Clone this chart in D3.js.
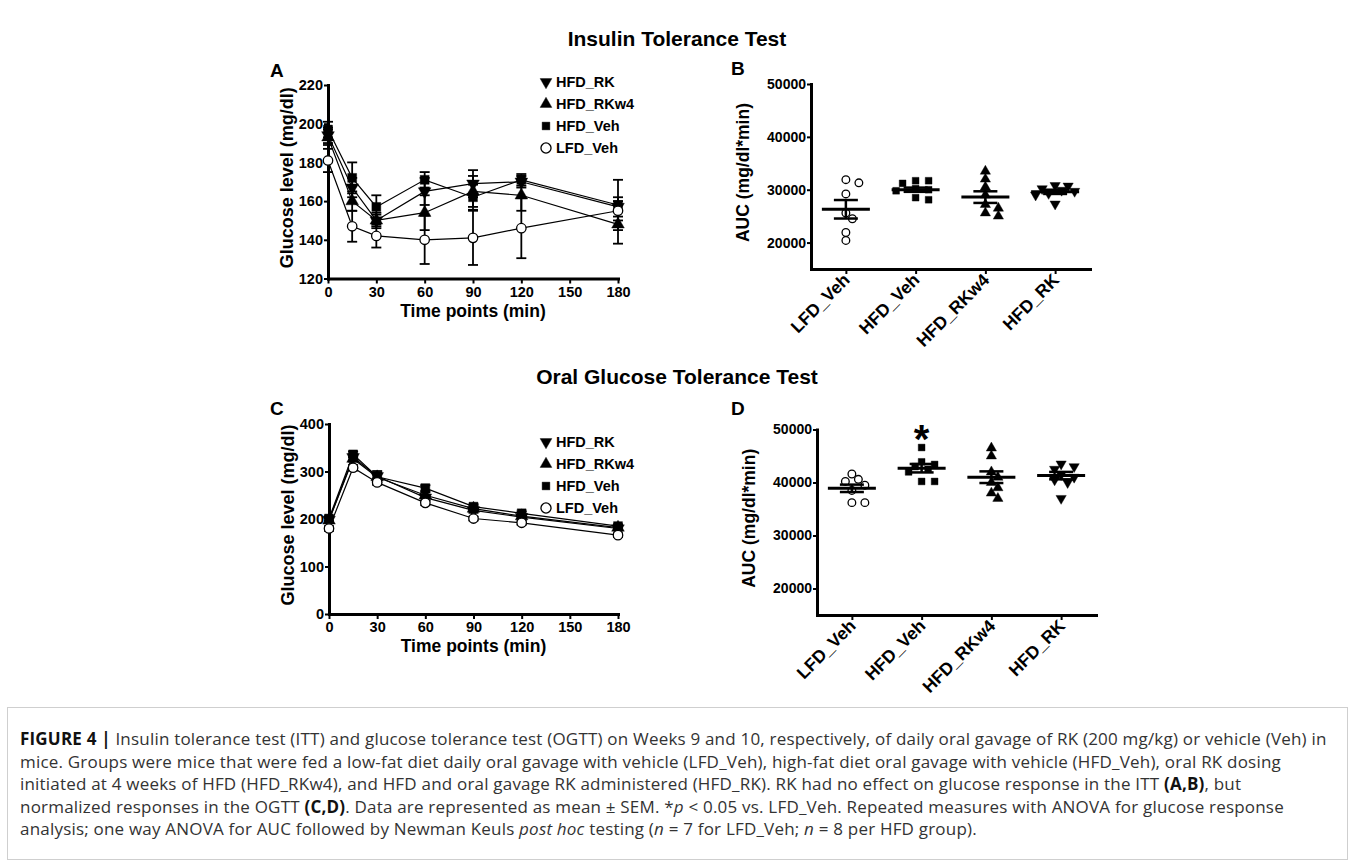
<!DOCTYPE html>
<html>
<head>
<meta charset="utf-8">
<script src="https://cdn.jsdelivr.net/npm/d3@7"></script>
<style>
  body { margin: 0; background: #fff; }
  svg text { font-family: "Liberation Sans", Arial, sans-serif; }
</style>
</head>
<body>
<svg id="fig" width="1355" height="864"></svg>
<script>
// time points (min) and axis ticks
var timePoints = [0, 15, 30, 60, 90, 120, 180];
var timeTicks = [0, 30, 60, 90, 120, 150, 180];
var seriesNames = ["HFD_RK", "HFD_RKw4", "HFD_Veh", "LFD_Veh"];

// ITT glucose (mg/dl), mean and SEM
var ittHFD_RK = [194, 167, 150, 165, 169, 170, 157];
var ittHFD_RKSem = [4, 5, 4, 7, 7, 3, 5];
var ittHFD_RKw4 = [193, 160, 150, 154, 165, 163, 148];
var ittHFD_RKw4Sem = [4, 5, 3, 9, 8, 8, 10];
var ittHFD_Veh = [197, 172, 157, 171, 162, 171, 158];
var ittHFD_VehSem = [4, 8, 6, 4, 6.5, 3, 13];
var ittLFD_Veh = [181, 147, 142, 140, 141, 146, 155];
var ittLFD_VehSem = [6, 8, 6, 12.5, 14, 15.5, 5];
var ittTicks = [120, 140, 160, 180, 200, 220];

// OGTT glucose (mg/dl), mean and SEM
var ogttHFD_RK = [198, 330, 290, 245, 218, 204, 180];
var ogttHFD_RKSem = [5, 6, 8, 6, 5, 4, 4];
var ogttHFD_RKw4 = [197, 327, 288, 250, 222, 206, 182];
var ogttHFD_RKw4Sem = [5, 6, 6, 6, 5, 4, 4];
var ogttHFD_Veh = [201, 336, 289, 265, 226, 212, 185];
var ogttHFD_VehSem = [5, 6, 12, 6, 5, 4, 4];
var ogttLFD_Veh = [180, 308, 277, 234, 201, 192, 166];
var ogttLFD_VehSem = [5, 6, 5, 5, 4, 4, 4];
var ogttTicks = [0, 100, 200, 300, 400];

// AUC (mg/dl*min), individual animals
var aucGroups = ["LFD_Veh", "HFD_Veh", "HFD_RKw4", "HFD_RK"];
var aucTicks = [20000, 30000, 40000, 50000];
var ittAucLFD_Veh = [31900, 31300, 29200, 25600, 24500, 21900, 20400];
var ittAucHFD_Veh = [31700, 31700, 31200, 30200, 30000, 29800, 28500, 28100];
var ittAucHFD_RKw4 = [33500, 32000, 30500, 29000, 27200, 26500, 25600, 25000];
var ittAucHFD_RK = [30800, 30700, 30200, 29900, 29700, 29300, 29000, 27300];
var ittAucMean = [26300, 30000, 28600, 29600];
var ittAucSem = [1750, 400, 1100, 400];

var ogttAucLFD_Veh = [41600, 40600, 40200, 39500, 38500, 36200, 36200];
var ogttAucHFD_Veh = [46600, 43900, 43400, 43000, 42500, 42000, 40200, 40200];
var ogttAucHFD_RKw4 = [46500, 45000, 42000, 41000, 40000, 39000, 38000, 37000];
var ogttAucHFD_RK = [43500, 43000, 42500, 41500, 41000, 40500, 40000, 37000];
var ogttAucMean = [38900, 42700, 41000, 41300];
var ogttAucSem = [700, 800, 1100, 700];

var shapeOf = { HFD_RK: "down", HFD_RKw4: "up", HFD_Veh: "square", LFD_Veh: "circle" };

var svg = d3.select("#fig");

function drawMarker(g, kind, x, y, area) {
  var type = kind === "circle" ? d3.symbolCircle : kind === "square" ? d3.symbolSquare : d3.symbolTriangle;
  g.append("path")
    .attr("d", d3.symbol(type, area)())
    .attr("transform", "translate(" + x + "," + y + ")" + (kind === "down" ? " rotate(180)" : ""))
    .attr("fill", kind === "circle" ? "#fff" : "#000")
    .attr("stroke", "#000")
    .attr("stroke-width", kind === "circle" ? 1.3 : 0.4);
}

function styleAxis(a, fontSize) {
  a.select(".domain").attr("stroke", "#000").attr("stroke-width", 3).attr("stroke-linecap", "square");
  a.selectAll(".tick line").attr("stroke", "#000").attr("stroke-width", 2);
  a.selectAll(".tick text").attr("fill", "#000").attr("font-weight", "bold")
    .attr("font-size", fontSize).attr("font-family", "Liberation Sans, Arial, sans-serif");
}

function panelLetter(txt, x, y) {
  svg.append("text").attr("x", x).attr("y", y).text(txt)
    .attr("font-size", 19).attr("font-weight", "bold");
}

function timeCourse(o) {
  var g = svg.append("g");
  var x = d3.scaleLinear().domain([0, 180]).range([o.left, o.right]);
  var y = d3.scaleLinear().domain([o.yTicks[0], o.yTicks[o.yTicks.length - 1]]).range([o.bottom, o.top]);

  var xa = g.append("g").attr("transform", "translate(0," + o.bottom + ")")
    .call(d3.axisBottom(x).tickValues(timeTicks).tickSize(5).tickSizeOuter(0).tickPadding(3));
  var ya = g.append("g").attr("transform", "translate(" + o.left + ",0)")
    .call(d3.axisLeft(y).tickValues(o.yTicks).tickSize(4).tickSizeOuter(0).tickPadding(1));
  styleAxis(xa, 14.5); styleAxis(ya, 14.5);

  g.append("text").attr("x", (o.left + o.right) / 2).attr("y", o.bottom + 38)
    .attr("text-anchor", "middle").attr("font-size", 17.5).attr("font-weight", "bold")
    .text("Time points (min)");
  g.append("text").attr("transform", "translate(" + (o.left - 35) + "," + ((o.top + o.bottom) / 2 - 4) + ") rotate(-90)")
    .attr("text-anchor", "middle").attr("font-size", 18).attr("font-weight", "bold")
    .text("Glucose level (mg/dl)");

  var line = d3.line().x(function (d) { return x(d[0]); }).y(function (d) { return y(d[1]); });

  // error bars
  o.series.forEach(function (s) {
    s.values.forEach(function (v, i) {
      var cx = x(timePoints[i]), lo = y(v - s.sem[i]), hi = y(v + s.sem[i]);
      g.append("line").attr("x1", cx).attr("x2", cx).attr("y1", lo).attr("y2", hi)
        .attr("stroke", "#000").attr("stroke-width", 1.8);
      [lo, hi].forEach(function (yy) {
        g.append("line").attr("x1", cx - 5).attr("x2", cx + 5).attr("y1", yy).attr("y2", yy)
          .attr("stroke", "#000").attr("stroke-width", 1.8);
      });
    });
  });
  // connecting lines
  o.series.forEach(function (s) {
    g.append("path").datum(timePoints.map(function (t, i) { return [t, s.values[i]]; }))
      .attr("d", line).attr("fill", "none").attr("stroke", "#000").attr("stroke-width", 1.2);
  });
  // markers
  o.series.forEach(function (s) {
    s.values.forEach(function (v, i) {
      drawMarker(g, shapeOf[s.name], x(timePoints[i]), y(v), s.name === "HFD_Veh" ? 80 : 70);
    });
  });

  // legend
  seriesNames.forEach(function (n, i) {
    var ly = o.legY + i * 22;
    drawMarker(g, shapeOf[n], o.legX, ly, n === "LFD_Veh" ? 80 : 60);
    g.append("text").attr("x", o.legX + 10).attr("y", ly + 5)
      .attr("font-size", 14.5).attr("font-weight", "bold").text(n);
  });
}

function swarm(values, cx, y, step, minDist) {
  var placed = [];
  values.slice().sort(function (a, b) { return b - a; }).forEach(function (v) {
    var py = y(v);
    for (var k = 0; k < 30; k++) {
      var off = k === 0 ? 0 : (k % 2 ? 1 : -1) * Math.ceil(k / 2) * step;
      var px = cx + off;
      var ok = placed.every(function (q) { return Math.hypot(q.x - px, q.y - py) >= minDist; });
      if (ok) { placed.push({ x: px, y: py }); break; }
    }
  });
  return placed;
}

function aucScatter(o) {
  var g = svg.append("g");
  var x = d3.scalePoint().domain(aucGroups).range([o.left, o.right]).padding(0.5);
  var y = d3.scaleLinear().domain([15000, 50000]).range([o.bottom, o.top]);

  var xa = g.append("g").attr("transform", "translate(0," + o.bottom + ")")
    .call(d3.axisBottom(x).tickSize(5).tickSizeOuter(0).tickFormat(""));
  var ya = g.append("g").attr("transform", "translate(" + o.left + ",0)")
    .call(d3.axisLeft(y).tickValues(aucTicks).tickSize(4).tickSizeOuter(0).tickPadding(1).tickFormat(d3.format("d")));
  styleAxis(xa, 14); styleAxis(ya, 14);

  aucGroups.forEach(function (c) {
    g.append("text")
      .attr("transform", "translate(" + (x(c) + 5) + "," + (o.bottom + 12) + ") rotate(-45)")
      .attr("text-anchor", "end").attr("font-size", 17.5).attr("font-weight", "bold").text(c);
  });

  g.append("text").attr("transform", "translate(" + (o.left - 62) + "," + ((o.top + o.bottom) / 2 - 4) + ") rotate(-90)")
    .attr("text-anchor", "middle").attr("font-size", 17.5).attr("font-weight", "bold")
    .text("AUC (mg/dl*min)");

  o.points.forEach(function (vals, gi) {
    var cx = x(aucGroups[gi]);
    var kind = shapeOf[aucGroups[gi]];
    swarm(vals, cx, y, 6.5, 7.5).forEach(function (p) {
      drawMarker(g, kind, p.x, p.y, 46);
    });
  });

  o.mean.forEach(function (m, gi) {
    var cx = x(aucGroups[gi]);
    g.append("line").attr("x1", cx - 24).attr("x2", cx + 24).attr("y1", y(m)).attr("y2", y(m))
      .attr("stroke", "#000").attr("stroke-width", 3);
    var lo = y(m - o.sem[gi]), hi = y(m + o.sem[gi]);
    g.append("line").attr("x1", cx).attr("x2", cx).attr("y1", lo).attr("y2", hi)
      .attr("stroke", "#000").attr("stroke-width", 2.5);
    [lo, hi].forEach(function (yy) {
      g.append("line").attr("x1", cx - 12).attr("x2", cx + 12).attr("y1", yy).attr("y2", yy)
        .attr("stroke", "#000").attr("stroke-width", 2.5);
    });
  });

  if (o.star) {
    g.append("text").attr("x", x(o.star)).attr("y", o.top + 23)
      .attr("text-anchor", "middle").attr("font-size", 40).attr("font-weight", "bold").text("*");
  }
}

// titles
svg.append("text").attr("x", 677).attr("y", 46).attr("text-anchor", "middle")
  .attr("font-size", 21).attr("font-weight", "bold").text("Insulin Tolerance Test");
svg.append("text").attr("x", 677).attr("y", 384).attr("text-anchor", "middle")
  .attr("font-size", 21).attr("font-weight", "bold").text("Oral Glucose Tolerance Test");

panelLetter("A", 270, 77);
panelLetter("B", 731, 75);
panelLetter("C", 270, 415);
panelLetter("D", 731, 415);

timeCourse({
  left: 328, right: 618, top: 85, bottom: 278.5, yTicks: ittTicks, legX: 546, legY: 82,
  series: [
    { name: "HFD_RK", values: ittHFD_RK, sem: ittHFD_RKSem },
    { name: "HFD_RKw4", values: ittHFD_RKw4, sem: ittHFD_RKw4Sem },
    { name: "HFD_Veh", values: ittHFD_Veh, sem: ittHFD_VehSem },
    { name: "LFD_Veh", values: ittLFD_Veh, sem: ittLFD_VehSem }
  ]
});

timeCourse({
  left: 329, right: 618, top: 424, bottom: 614, yTicks: ogttTicks, legX: 546, legY: 442,
  series: [
    { name: "HFD_RK", values: ogttHFD_RK, sem: ogttHFD_RKSem },
    { name: "HFD_RKw4", values: ogttHFD_RKw4, sem: ogttHFD_RKw4Sem },
    { name: "HFD_Veh", values: ogttHFD_Veh, sem: ogttHFD_VehSem },
    { name: "LFD_Veh", values: ogttLFD_Veh, sem: ogttLFD_VehSem }
  ]
});

aucScatter({
  left: 811, right: 1090, top: 84, bottom: 269,
  points: [ittAucLFD_Veh, ittAucHFD_Veh, ittAucHFD_RKw4, ittAucHFD_RK],
  mean: ittAucMean, sem: ittAucSem
});

aucScatter({
  left: 817, right: 1096, top: 429.5, bottom: 615,
  points: [ogttAucLFD_Veh, ogttAucHFD_Veh, ogttAucHFD_RKw4, ogttAucHFD_RK],
  mean: ogttAucMean, sem: ogttAucSem, star: "HFD_Veh"
});

// caption
var captionLines = [
  [["FIGURE 4 | ", "b"], ["Insulin tolerance test (ITT) and glucose tolerance test (OGTT) on Weeks 9 and 10, respectively, of daily oral gavage of RK (200 mg/kg) or vehicle (Veh) in", ""]],
  [["mice. Groups were mice that were fed a low-fat diet daily oral gavage with vehicle (LFD_Veh), high-fat diet oral gavage with vehicle (HFD_Veh), oral RK dosing", ""]],
  [["initiated at 4 weeks of HFD (HFD_RKw4), and HFD and oral gavage RK administered (HFD_RK). RK had no effect on glucose response in the ITT ", ""], ["(A,B)", "b"], [", but", ""]],
  [["normalized responses in the OGTT ", ""], ["(C,D)", "b"], [". Data are represented as mean \u00b1 SEM. *", ""], ["p", "i"], [" < 0.05 vs. LFD_Veh. Repeated measures with ANOVA for glucose response", ""]],
  [["analysis; one way ANOVA for AUC followed by Newman Keuls ", ""], ["post hoc", "i"], [" testing (", ""], ["n", "i"], [" = 7 for LFD_Veh; ", ""], ["n", "i"], [" = 8 per HFD group).", ""]]
];

svg.append("rect").attr("x", 7.5).attr("y", 707.5).attr("width", 1340).attr("height", 152)
  .attr("fill", "none").attr("stroke", "#cfcfcf").attr("stroke-width", 1);

captionLines.forEach(function (parts, li) {
  var t = svg.append("text").attr("x", 20).attr("y", 745 + li * 22.5)
    .attr("font-size", 17).attr("fill", "#333").attr("letter-spacing", 0.2)
    .style("font-family", "'Open Sans', 'Noto Sans', sans-serif");
  parts.forEach(function (p) {
    var ts = t.append("tspan").text(p[0]);
    if (p[1] === "b") ts.attr("font-weight", "bold").attr("fill", "#111");
    if (p[1] === "i") ts.attr("font-style", "italic");
  });
});
</script>
</body>
</html>
